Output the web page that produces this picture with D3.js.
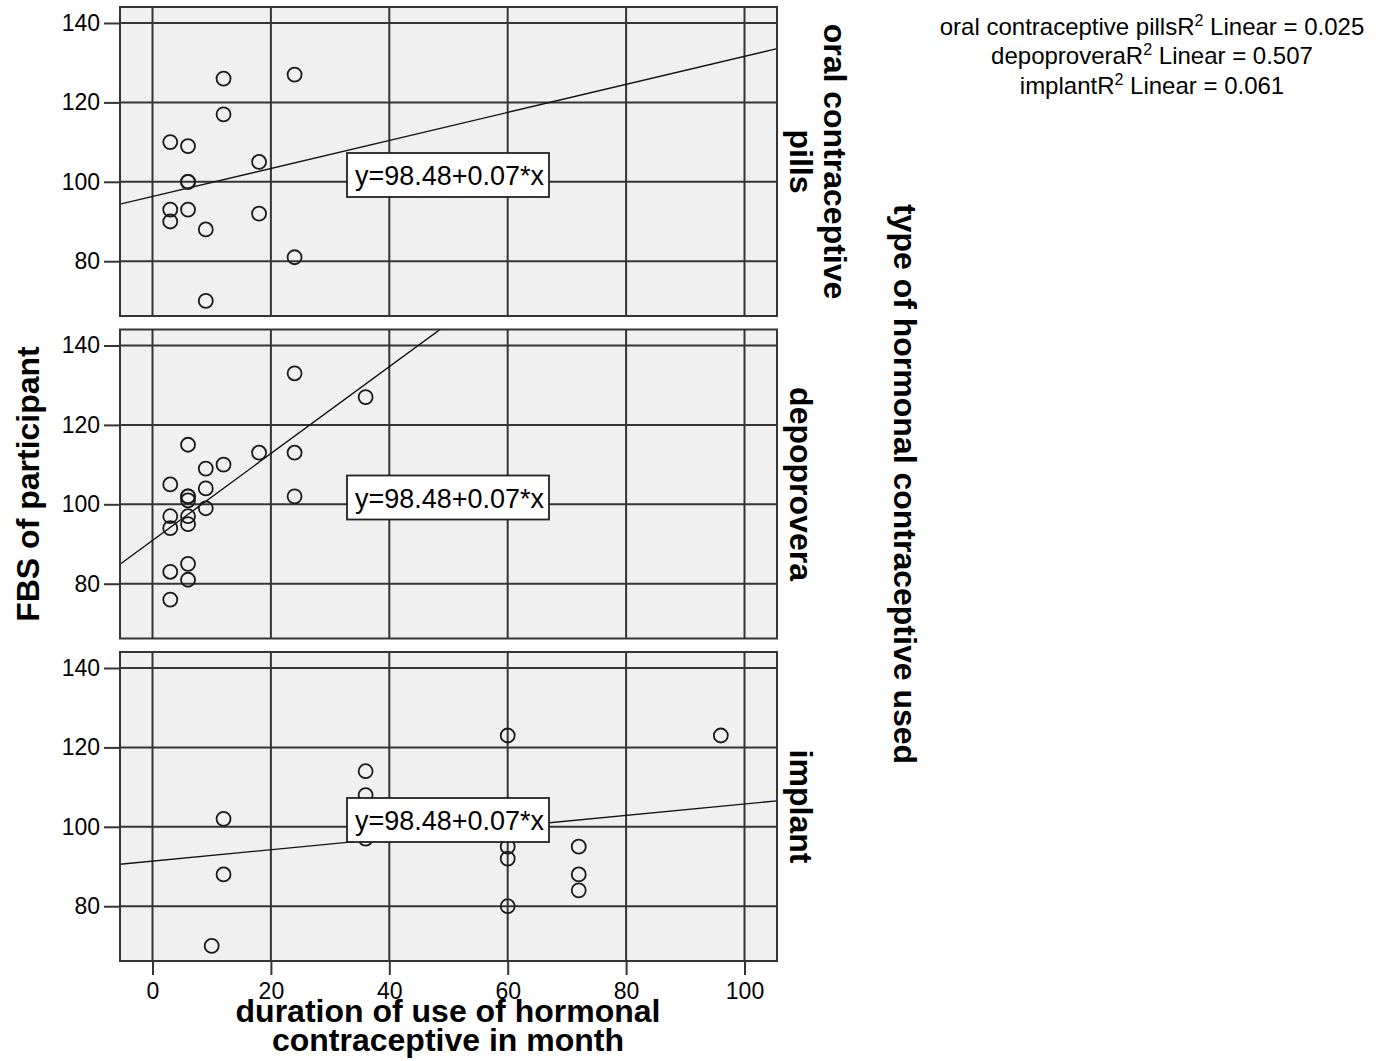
<!DOCTYPE html>
<html>
<head>
<meta charset="utf-8">
<script src="https://cdn.jsdelivr.net/npm/d3@7"></script>
<style>
  body { margin: 0; background: #fff; }
  svg { display: block; }
  text { font-family: "Liberation Sans", Arial, sans-serif; fill: #000; }
</style>
</head>
<body>
<svg id="chart" width="1386" height="1061"></svg>
<script>
// Contraceptive groups (one panel each) and their wrapped strip labels
const groups = ["oral contraceptive pills", "depoprovera", "implant"];
const groupLabelLines = [["oral contraceptive", "pills"], ["depoprovera"], ["implant"]];

// Duration of use (months) and fasting blood sugar per participant
const pillsMonths = [3, 6, 12, 12, 24, 18, 6, 6, 3, 3, 6, 9, 18, 24, 9];
const pillsFBS    = [110, 109, 126, 117, 127, 105, 100, 100, 93, 90, 93, 88, 92, 81, 70];

const depoMonths = [24, 36, 6, 18, 24, 12, 9, 3, 9, 6, 6, 6, 24, 9, 3, 6, 6, 3, 6, 3, 6, 3];
const depoFBS    = [133, 127, 115, 113, 113, 110, 109, 105, 104, 102, 101, 102, 102, 99, 97, 97, 95, 94, 85, 83, 81, 76];

const implantMonths = [12, 12, 10, 36, 36, 36, 60, 96, 60, 60, 60, 72, 72, 72];
const implantFBS    = [102, 88, 70, 114, 108, 97, 123, 123, 95, 92, 80, 95, 88, 84];

// Per-group linear fit lines and their R² values
const fitIntercepts = [96.3, 90.9, 91.35];
const fitSlopes     = [0.353, 1.094, 0.144];
const rSquared      = ["0.025", "0.507", "0.061"];
const equationLabel = "y=98.48+0.07*x";

// Axis ticks and titles
const xTicks = [0, 20, 40, 60, 80, 100];
const yTicks = [80, 100, 120, 140];
const xTitleLines = ["duration of use of hormonal", "contraceptive in month"];
const yTitle = "FBS of participant";
const panelTitle = "type of hormonal contraceptive used";

const series = [
  { months: pillsMonths, fbs: pillsFBS },
  { months: depoMonths, fbs: depoFBS },
  { months: implantMonths, fbs: implantFBS }
];

// Layout
const panelLeft = 120, panelRight = 777, panelH = 309;
const panelTops = [7, 329.5, 652];
const gridColor = "#353535";
const tickFont = '"Liberation Sans", Arial, sans-serif';

const svg = d3.select("#chart");

const x = d3.scaleLinear().domain([-5.49, 105.49]).range([panelLeft, panelRight]);

groups.forEach((g, i) => {
  const top = panelTops[i];
  const y = d3.scaleLinear().domain([66.2, 144.03]).range([top + panelH, top]);
  const panel = svg.append("g").attr("class", "panel");

  panel.append("rect")
    .attr("x", panelLeft).attr("y", top)
    .attr("width", panelRight - panelLeft).attr("height", panelH)
    .attr("fill", "#f0f0f0");

  // grid
  panel.selectAll("line.vgrid").data(xTicks).enter().append("line")
    .attr("class", "vgrid")
    .attr("x1", d => x(d)).attr("x2", d => x(d))
    .attr("y1", top).attr("y2", top + panelH)
    .attr("stroke", gridColor).attr("stroke-width", 2);
  panel.selectAll("line.hgrid").data(yTicks).enter().append("line")
    .attr("class", "hgrid")
    .attr("x1", panelLeft).attr("x2", panelRight)
    .attr("y1", d => y(d)).attr("y2", d => y(d))
    .attr("stroke", gridColor).attr("stroke-width", 2);

  const clipId = "clip" + i;
  svg.append("clipPath").attr("id", clipId).append("rect")
    .attr("x", panelLeft).attr("y", top)
    .attr("width", panelRight - panelLeft).attr("height", panelH);

  const inner = panel.append("g").attr("clip-path", `url(#${clipId})`);

  // fit line
  const [x0, x1] = x.domain();
  const a = fitIntercepts[i], b = fitSlopes[i];
  inner.append("line")
    .attr("x1", x(x0)).attr("y1", y(a + b * x0))
    .attr("x2", x(x1)).attr("y2", y(a + b * x1))
    .attr("stroke", "#111").attr("stroke-width", 1.4);

  // points
  const s = series[i];
  inner.selectAll("circle").data(s.months.map((m, k) => [m, s.fbs[k]])).enter()
    .append("circle")
    .attr("cx", d => x(d[0])).attr("cy", d => y(d[1]))
    .attr("r", 7)
    .attr("fill", "none").attr("stroke", "#1a1a1a").attr("stroke-width", 1.8);

  // equation label
  inner.append("rect")
    .attr("x", 347).attr("y", top + 146).attr("width", 202).attr("height", 44)
    .attr("fill", "#fff").attr("stroke", "#222").attr("stroke-width", 1.8);
  inner.append("text")
    .attr("x", 355).attr("y", top + 178)
    .attr("font-size", 27)
    .attr("textLength", 189).attr("lengthAdjust", "spacingAndGlyphs")
    .text(equationLabel);

  // frame
  panel.append("rect")
    .attr("x", panelLeft).attr("y", top)
    .attr("width", panelRight - panelLeft).attr("height", panelH)
    .attr("fill", "none").attr("stroke", gridColor).attr("stroke-width", 2);

  // y axis
  const ya = panel.append("g").attr("transform", `translate(${panelLeft},0)`)
    .call(d3.axisLeft(y).tickValues(yTicks).tickSize(16).tickPadding(4));
  ya.select(".domain").remove();
  ya.selectAll(".tick line").attr("stroke", gridColor).attr("stroke-width", 2);
  ya.selectAll(".tick text").attr("font-size", 23).attr("font-family", tickFont).attr("fill", "#000");

  // strip label
  const lines = groupLabelLines[i];
  const cy = top + panelH / 2;
  lines.forEach((ln, k) => {
    const lx = 801 + (lines.length - 1 - k) * 34;
    svg.append("text")
      .attr("transform", `translate(${lx},${cy}) rotate(90)`)
      .attr("text-anchor", "middle").attr("dominant-baseline", "central")
      .attr("font-size", 32).attr("font-weight", "bold")
      .text(ln);
  });

  // x axis on the bottom panel
  if (i === groups.length - 1) {
    const xa = svg.append("g").attr("transform", `translate(0,${top + panelH})`)
      .call(d3.axisBottom(x).tickValues(xTicks).tickSize(14).tickPadding(8));
    xa.select(".domain").remove();
    xa.selectAll(".tick line").attr("stroke", gridColor).attr("stroke-width", 2);
    xa.selectAll(".tick text").attr("font-size", 23).attr("font-family", tickFont).attr("fill", "#000");
  }
});

// axis titles
svg.append("text")
  .attr("transform", "translate(28,484) rotate(-90)")
  .attr("text-anchor", "middle").attr("dominant-baseline", "central")
  .attr("font-size", 32).attr("font-weight", "bold")
  .text(yTitle);

svg.append("text")
  .attr("transform", "translate(905,484) rotate(90)")
  .attr("text-anchor", "middle").attr("dominant-baseline", "central")
  .attr("font-size", 32).attr("font-weight", "bold")
  .text(panelTitle);

xTitleLines.forEach((ln, k) => {
  svg.append("text")
    .attr("x", 448).attr("y", 1022 + k * 29)
    .attr("text-anchor", "middle")
    .attr("font-size", 32).attr("font-weight", "bold")
    .text(ln);
});

// R² legend
groups.forEach((g, i) => {
  const t = svg.append("text")
    .attr("x", 1152).attr("y", 35 + i * 29.3)
    .attr("text-anchor", "middle")
    .attr("font-size", 24).attr("fill", "#111");
  t.append("tspan").text(g + "R");
  t.append("tspan").attr("font-size", 16).attr("dy", -9).text("2");
  t.append("tspan").attr("dy", 9).text(" Linear = " + rSquared[i]);
});
</script>
</body>
</html>
